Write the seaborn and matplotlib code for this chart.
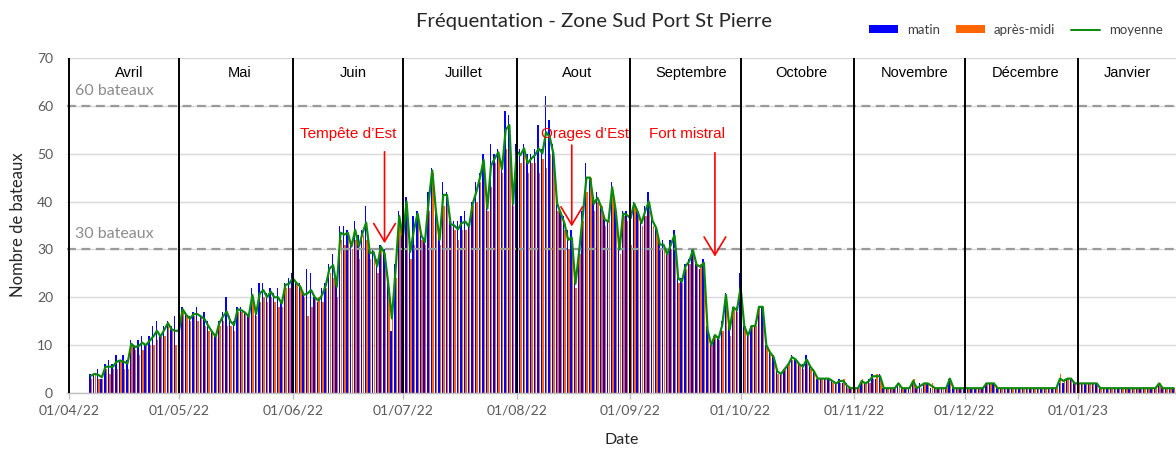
import numpy as np
import pandas as pd
import matplotlib
matplotlib.use("Agg")
import matplotlib.pyplot as plt
import matplotlib.dates as mdates
from matplotlib.patches import Patch
from matplotlib.lines import Line2D
import seaborn as sns

# ---------------- data (daily, from 07/04/2022) ----------------
start_date = "2022-04-07"

matin = [
    # avril (7-30)
    4, 4, 5, 3, 6, 7, 6, 8, 7, 8, 7, 11, 10, 11, 12, 10, 12, 14, 15, 12, 14, 15, 14, 16,
    # mai
    15, 18, 17, 16, 17, 18, 16, 17, 15, 13, 12, 15, 17, 20, 16, 15, 18, 18, 17, 16, 22, 17, 23, 23, 21, 22, 21, 22, 19, 23, 24,
    # juin
    25, 23, 23, 21, 26, 25, 20, 19, 22, 23, 27, 29, 24, 35, 35, 34, 31, 36, 33, 34, 39, 30, 30, 28, 31, 30, 24, 13, 27, 38,
    # juillet
    33, 41, 31, 37, 38, 34, 32, 42, 47, 39, 33, 44, 42, 36, 36, 36, 37, 38, 35, 40, 44, 46, 50, 39, 52, 50, 51, 48, 59, 58, 40,
    # aout
    52, 51, 52, 50, 50, 51, 56, 51, 62, 57, 52, 41, 38, 37, 34, 34, 24, 30, 38, 48, 45, 41, 42, 39, 37, 36, 44, 39, 31, 38, 38,
    # septembre
    42, 40, 38, 36, 39, 42, 37, 35, 32, 32, 29, 32, 34, 25, 24, 27, 28, 30, 27, 26, 28, 14, 10, 12, 12, 15, 21, 14, 18, 18,
    # octobre
    25, 14, 12, 14, 14, 18, 18, 10, 9, 8, 5, 4, 5, 6, 8, 7, 6, 6, 8, 6, 5, 3, 3, 3, 3, 3, 2, 3, 2, 2, 1,
    # novembre
    1, 1, 2, 2, 3, 4, 3, 4, 1, 1, 1, 1, 2, 1, 1, 1, 2, 1, 2, 2, 2, 1, 1, 1, 1, 1, 3, 1, 1, 1,
    # decembre
    1, 1, 1, 1, 1, 1, 2, 2, 2, 1, 1, 1, 1, 1, 1, 1, 1, 1, 1, 1, 1, 1, 1, 1, 1, 1, 2, 2, 3, 3, 2,
    # janvier (1-27)
    2, 2, 2, 2, 2, 2, 1, 1, 1, 1, 1, 1, 1, 1, 1, 1, 1, 1, 1, 1, 1, 1, 2, 1, 1, 1, 1,
]

apres_midi = [
    3, 4, 3, 3, 5, 4, 5, 5, 7, 5, 5, 10, 9, 8, 9, 10, 10, 10, 11, 12, 12, 14, 13, 10,
    11, 17, 16, 15, 16, 15, 16, 14, 13, 13, 12, 14, 15, 14, 14, 13, 17, 17, 17, 16, 19, 16, 19, 20, 19, 20, 19, 18, 18, 22, 22,
    23, 23, 22, 20, 16, 18, 20, 20, 19, 22, 25, 24, 20, 32, 31, 33, 30, 32, 28, 33, 32, 28, 29, 25, 30, 29, 22, 18, 24, 36,
    32, 39, 28, 31, 37, 32, 31, 38, 46, 37, 31, 39, 41, 35, 34, 32, 34, 34, 35, 39, 40, 44, 47, 38, 43, 48, 50, 46, 51, 54, 39,
    49, 48, 50, 46, 48, 48, 46, 49, 47, 50, 48, 38, 37, 34, 30, 31, 22, 29, 36, 42, 45, 38, 40, 39, 35, 36, 42, 37, 29, 37, 36,
    31, 39, 38, 35, 37, 38, 35, 34, 30, 30, 29, 30, 32, 23, 23, 26, 27, 30, 27, 27, 26, 12, 10, 12, 11, 13, 20, 12, 18, 17,
    19, 14, 12, 14, 14, 18, 18, 10, 8, 7, 4, 4, 5, 6, 7, 7, 6, 5, 6, 5, 4, 3, 3, 3, 3, 2, 2, 2, 3, 1, 1,
    1, 1, 3, 2, 2, 3, 4, 3, 1, 1, 1, 1, 2, 1, 1, 1, 3, 1, 1, 2, 2, 2, 1, 1, 1, 1, 3, 1, 1, 1,
    1, 1, 1, 1, 1, 1, 2, 2, 2, 1, 1, 1, 1, 1, 1, 1, 1, 1, 1, 1, 1, 1, 1, 1, 1, 1, 4, 3, 3, 3, 2,
    2, 2, 2, 2, 2, 2, 1, 1, 1, 1, 1, 1, 1, 1, 1, 1, 1, 1, 1, 1, 1, 1, 2, 1, 1, 1, 1,
]

moyenne = [
    3.6, 4.0, 3.8, 3.3, 5.5, 5.5, 5.5, 6.5, 6.8, 6.5, 6.2, 10.3, 9.6, 9.8, 10.5, 10.0, 10.9, 11.8, 13.0, 11.8, 13.2, 14.6, 13.3, 13.0,
    13.0, 17.5, 16.3, 15.5, 16.5, 16.5, 16.0, 15.4, 14.0, 12.8, 11.8, 14.6, 16.0, 17.0, 15.0, 14.2, 17.5, 17.3, 16.8, 16.0, 20.5,
    16.5, 20.8, 21.5, 20.0, 21.2, 20.0, 20.0, 18.7, 22.6, 22.8,
    24.0, 23.0, 22.3, 20.5, 20.8, 21.5, 20.0, 19.3, 20.5, 22.5, 26.0, 26.7, 22.2, 33.5, 33.1, 33.5, 30.6, 34.1, 30.6, 33.4,
    35.6, 29.2, 29.5, 26.5, 30.6, 29.2, 22.9, 15.6, 25.7, 37.0,
    32.5, 40.0, 29.5, 34.0, 37.5, 33.0, 31.5, 40.0, 46.5, 38.0, 32.0, 41.4, 41.4, 35.3, 35.0, 34.2, 35.5, 35.8, 34.8, 39.5,
    42.0, 45.0, 48.7, 38.5, 47.5, 49.0, 50.3, 46.8, 55.0, 56.0, 39.5,
    50.5, 49.7, 51.1, 48.0, 49.0, 49.7, 51.1, 50.1, 54.5, 53.5, 50.0, 39.6, 37.6, 35.5, 32.0, 32.5, 22.8, 29.5, 37.0, 45.0,
    45.0, 39.5, 40.8, 38.9, 36.2, 35.8, 43.0, 38.0, 30.0, 37.5, 37.2,
    36.5, 39.6, 37.8, 35.5, 38.0, 40.0, 36.0, 34.5, 31.0, 31.0, 29.0, 31.0, 33.0, 24.0, 23.3, 26.5, 27.5, 29.9, 26.8, 26.4,
    27.2, 13.2, 10.0, 12.1, 11.4, 14.2, 20.5, 13.2, 17.9, 17.3,
    22.0, 14.0, 12.0, 14.0, 14.0, 18.0, 18.0, 10.0, 8.5, 7.5, 4.5, 4.0, 5.0, 6.0, 7.5, 7.0, 6.0, 5.5, 7.0, 5.5,
    4.5, 3.0, 3.0, 3.0, 3.0, 2.5, 2.0, 2.5, 2.5, 1.5, 1.0,
    1.0, 1.0, 2.5, 2.0, 2.5, 3.5, 3.5, 3.5, 1.0, 1.0, 1.0, 1.0, 2.0, 1.0, 1.0, 1.0, 2.5, 1.0, 1.5, 2.0,
    2.0, 1.5, 1.0, 1.0, 1.0, 1.0, 3.0, 1.0, 1.0, 1.0,
    1.0, 1.0, 1.0, 1.0, 1.0, 1.0, 2.0, 2.0, 2.0, 1.0, 1.0, 1.0, 1.0, 1.0, 1.0, 1.0, 1.0, 1.0, 1.0, 1.0,
    1.0, 1.0, 1.0, 1.0, 1.0, 1.0, 3.0, 2.5, 3.0, 3.0, 2.0,
    2.0, 2.0, 2.0, 2.0, 2.0, 2.0, 1.0, 1.0, 1.0, 1.0, 1.0, 1.0, 1.0, 1.0, 1.0, 1.0, 1.0, 1.0, 1.0, 1.0,
    1.0, 1.0, 2.0, 1.0, 1.0, 1.0, 1.0,
]

month_starts = ["2022-04-01", "2022-05-01", "2022-06-01", "2022-07-01", "2022-08-01",
                "2022-09-01", "2022-10-01", "2022-11-01", "2022-12-01", "2023-01-01"]
tick_labels = ["01/04/22", "01/05/22", "01/06/22", "01/07/22", "01/08/22",
               "01/09/22", "01/10/22", "01/11/22", "01/12/22", "01/01/23"]
month_names = ["Avril", "Mai", "Juin", "Juillet", "Aout", "Septembre",
               "Octobre", "Novembre", "Décembre", "Janvier"]
ref_levels = [30, 60]
ref_labels = ["30 bateaux", "60 bateaux"]
events = ["Tempête d’Est", "Orages d’Est", "Fort mistral"]
event_dates = ["2022-06-26", "2022-08-16", "2022-09-24"]

# ---------------- figure ----------------
sns.set_theme(style="white")
plt.rcParams['font.family'] = ['Lato', 'DejaVu Sans']

W, H = 1176, 449
fig = plt.figure(figsize=(W / 100, H / 100), dpi=100)
ax = fig.add_axes([67 / W, (H - 393) / H, 1 - 67 / W, (393 - 58) / H])

dates = pd.date_range(start_date, periods=len(moyenne), freq="D")
xnum = mdates.date2num(dates)
x0 = mdates.date2num(pd.Timestamp(month_starts[0]))
xstart = x0 - 0.5
xend = x0 + 301.6

ax.set_xlim(xstart, xend)
ax.set_ylim(0, 70)

# horizontal grid
ax.set_yticks(np.arange(0, 71, 10))
ax.yaxis.grid(True, color="#d9d9d9", lw=1.0, zorder=0)
ax.set_axisbelow(True)

# bars
ax.bar(xnum - 0.2, matin, width=0.38, color="#0000FF", linewidth=0, zorder=2)
ax.bar(xnum + 0.2, apres_midi, width=0.38, color="#FF6600", linewidth=0, zorder=2)

# average line
df = pd.DataFrame({"x": xnum, "moyenne": moyenne})
sns.lineplot(data=df, x="x", y="moyenne", ax=ax, color="#0A8A0A", lw=1.6, zorder=4)

# reference dashed lines
for lvl, lab in zip(ref_levels, ref_labels):
    ax.axhline(lvl, color="#9a9a9a", lw=1.6, linestyle=(0, (4, 2.5)), zorder=3)
    ax.text(x0 + 1.6, lvl + 3.2, lab, color="#8c8c8c", fontsize=11.5,
            ha="left", va="center", zorder=5)

# month separators and names
ms_num = mdates.date2num(pd.to_datetime(month_starts))
for i, (m, name) in enumerate(zip(ms_num, month_names)):
    ax.axvline(m, color="black", lw=1.4, zorder=5)
    if i + 1 < len(ms_num):
        xc = m + 16.5
    else:
        xc = (m + xend) / 2
    ax.text(xc, 66.9, name, ha="center", va="center", fontsize=10.5,
            family="Liberation Sans", color="black", zorder=6)

# annotations
arrow_spans = [(50.4, 31.3), (51.8, 34.8), (50.2, 28.5)]
text_shift = [-10.0, 3.5, -7.5]
for ev, d, (ytop, ytip), dx in zip(events, event_dates, arrow_spans, text_shift):
    xe = mdates.date2num(pd.Timestamp(d))
    ax.annotate("", xy=(xe, ytip), xytext=(xe, ytop),
                arrowprops=dict(arrowstyle="->,head_length=1.0,head_width=0.6",
                                color="#FF0000", lw=1.2, shrinkA=0, shrinkB=0,
                                mutation_scale=13), zorder=7)
    ax.text(xe + dx, 54.2, ev, color="#FF0000", fontsize=11, ha="center",
            va="center", family="Liberation Sans", zorder=7)

# axes styling
ax.set_xticks(ms_num)
ax.set_xticklabels(tick_labels)
ax.tick_params(axis="x", colors="#bfbfbf", length=4, width=1, labelcolor="#595959",
               labelsize=10, pad=4, direction="out", bottom=True)
ax.tick_params(axis="y", length=0, labelcolor="#595959", labelsize=10, pad=10)
for s in ["top", "right", "left"]:
    ax.spines[s].set_visible(False)
ax.spines["bottom"].set_color("#bfbfbf")
ax.spines["bottom"].set_linewidth(1)
ax.set_xlabel("")
ax.set_ylabel("")

# titles / labels
fig.text(594 / W, 1 - 22 / H, "Fréquentation - Zone Sud Port St Pierre",
         ha="center", va="center", fontsize=14.7, color="#262626")
fig.text(18 / W, 1 - 225 / H, "Nombre de bateaux", rotation=90,
         ha="center", va="center", fontsize=12, color="#262626")
fig.text(622 / W, 1 - 440 / H, "Date", ha="center", va="center",
         fontsize=11.5, color="#262626")

# legend
handles = [Patch(facecolor="#0000FF", edgecolor="none"),
           Patch(facecolor="#FF6600", edgecolor="none"),
           Line2D([0], [0], color="#0A8A0A", lw=1.4)]
fig.legend(handles, ["matin", "après-midi", "moyenne"], loc="center",
           bbox_to_anchor=(1016 / W, 1 - 30 / H), ncol=3, frameon=False,
           fontsize=9.5, handlelength=2.2, handleheight=0.55, handletextpad=0.7,
           columnspacing=1.2, labelcolor="#404040")

fig.savefig("out.png", dpi=100)
